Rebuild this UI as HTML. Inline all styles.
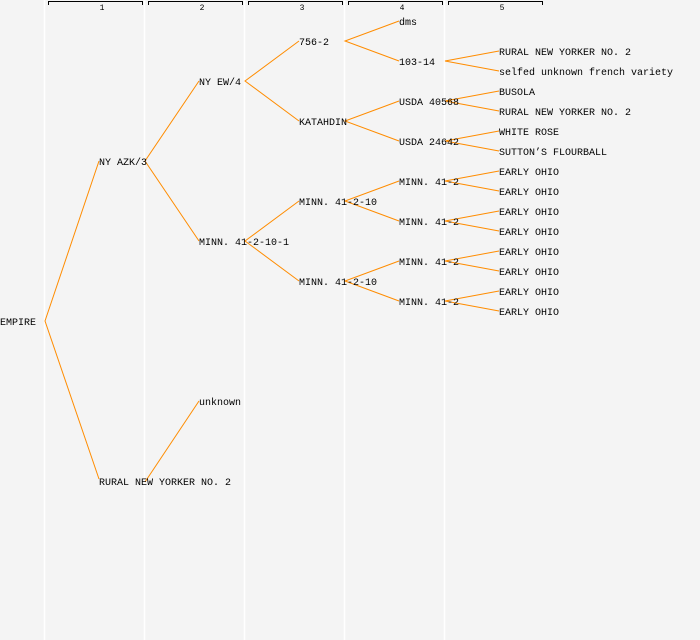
<!DOCTYPE html>
<html><head><meta charset="utf-8"><style>
html,body{margin:0;padding:0;background:#f4f4f4;}
svg{display:block}
text{font-family:"Liberation Mono",monospace;font-size:10px;fill:#000}
.h{font-size:8px}
</style></head><body>
<svg width="700" height="640" viewBox="0 0 700 640" xmlns="http://www.w3.org/2000/svg">
<rect width="700" height="640" fill="#f4f4f4"/>
<g stroke="#fff" stroke-width="1.5">
<line x1="44.5" y1="0" x2="44.5" y2="640"/><line x1="144.5" y1="0" x2="144.5" y2="640"/>
<line x1="244.5" y1="0" x2="244.5" y2="640"/><line x1="344.5" y1="0" x2="344.5" y2="640"/>
<line x1="444.5" y1="0" x2="444.5" y2="640"/>
</g>
<g stroke="#000" stroke-width="1" fill="none">
<path d="M48.5 5V1.5H142.5V5"/><path d="M148.5 5V1.5H242.5V5"/><path d="M248.5 5V1.5H342.5V5"/><path d="M348.5 5V1.5H442.5V5"/><path d="M448.5 5V1.5H542.5V5"/>
</g>
<g text-anchor="middle">
<text class="h" x="102" y="10">1</text><text class="h" x="202" y="10">2</text><text class="h" x="302" y="10">3</text><text class="h" x="402" y="10">4</text><text class="h" x="502" y="10">5</text>
</g>
<g stroke="#ff8c00" stroke-width="1" fill="none">
<path d="M99 161L45 321L99 479"/>
<path d="M199 81L145 161L199 241"/>
<path d="M145 482L199 401"/>
<path d="M299 41L245 81L299 121"/>
<path d="M299 201L245 241L299 281"/>
<path d="M399 21L345 41L399 61"/>
<path d="M399 101L345 121L399 141"/>
<path d="M399 181L345 201L399 221"/>
<path d="M399 261L345 281L399 301"/>
<path d="M499 51L445 61L499 71"/>
<path d="M499 91L445 101L499 111"/>
<path d="M499 131L445 141L499 151"/>
<path d="M499 171L445 181L499 191"/>
<path d="M499 211L445 221L499 231"/>
<path d="M499 251L445 261L499 271"/>
<path d="M499 291L445 301L499 311"/>
</g>
<g transform="translate(0,-1)">
<text x="0" y="326">EMPIRE</text>
<text x="99" y="166">NY AZK/3</text>
<text x="99" y="486">RURAL NEW YORKER NO. 2</text>
<text x="199" y="86">NY EW/4</text>
<text x="199" y="246">MINN. 41-2-10-1</text>
<text x="199" y="406">unknown</text>
<text x="299" y="46">756-2</text>
<text x="299" y="126">KATAHDIN</text>
<text x="299" y="206">MINN. 41-2-10</text>
<text x="299" y="286">MINN. 41-2-10</text>
<text x="399" y="26">dms</text>
<text x="399" y="66">103-14</text>
<text x="399" y="106">USDA 40568</text>
<text x="399" y="146">USDA 24642</text>
<text x="399" y="186">MINN. 41-2</text>
<text x="399" y="226">MINN. 41-2</text>
<text x="399" y="266">MINN. 41-2</text>
<text x="399" y="306">MINN. 41-2</text>
<text x="499" y="56">RURAL NEW YORKER NO. 2</text>
<text x="499" y="76">selfed unknown french variety</text>
<text x="499" y="96">BUSOLA</text>
<text x="499" y="116">RURAL NEW YORKER NO. 2</text>
<text x="499" y="136">WHITE ROSE</text>
<text x="499" y="156">SUTTON’S FLOURBALL</text>
<text x="499" y="176">EARLY OHIO</text>
<text x="499" y="196">EARLY OHIO</text>
<text x="499" y="216">EARLY OHIO</text>
<text x="499" y="236">EARLY OHIO</text>
<text x="499" y="256">EARLY OHIO</text>
<text x="499" y="276">EARLY OHIO</text>
<text x="499" y="296">EARLY OHIO</text>
<text x="499" y="316">EARLY OHIO</text>
</g>
</svg>
</body></html>
